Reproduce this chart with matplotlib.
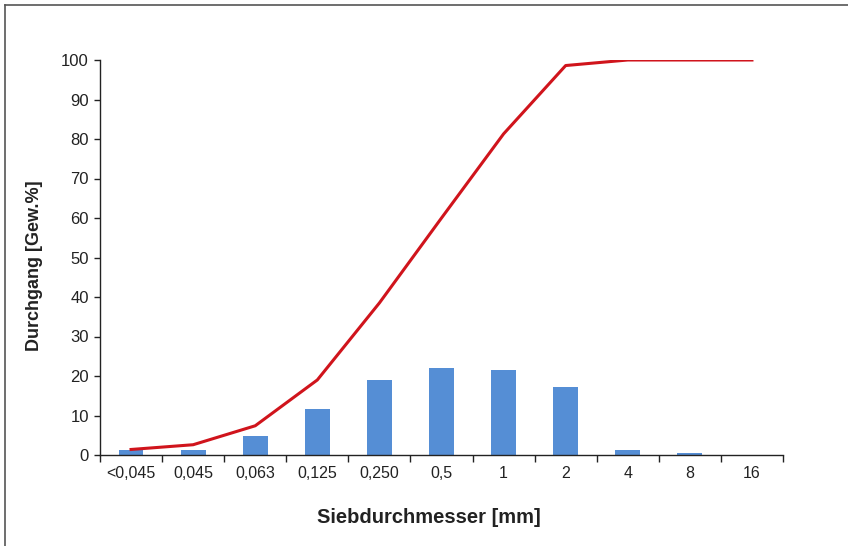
import matplotlib
matplotlib.use("Agg")
import matplotlib.pyplot as plt
import numpy as np
from matplotlib.lines import Line2D

categories = ["<0,045", "0,045", "0,063", "0,125", "0,250", "0,5", "1", "2", "4", "8", "16"]
fraction = [1.3, 1.3, 4.9, 11.6, 19.1, 22.0, 21.5, 17.2, 1.3, 0.4, 0.0]
passing = [1.4, 2.6, 7.4, 19.0, 38.5, 60.0, 81.3, 98.6, 100.0, 100.0, 100.0]
yticks = [0, 10, 20, 30, 40, 50, 60, 70, 80, 90, 100]

plt.rcParams['font.family'] = ['Liberation Sans', 'DejaVu Sans']

fig = plt.figure(figsize=(8.48, 5.46), dpi=100)
ax = fig.add_axes([100/848, 1-455/546, (783-100)/848, (455-60)/546])

x = np.arange(len(categories))
ax.bar(x, fraction, width=0.4, color="#558ed5", zorder=2)
ax.plot(x, passing, color="#d0141c", lw=2.2, zorder=3)

ax.set_xlim(-0.5, len(categories) - 0.5)
ax.set_ylim(0, 100)
ax.set_yticks(yticks)
ax.set_xticks(x)
ax.set_xticklabels(categories)
ax.set_xticks(np.arange(-0.5, len(categories), 1.0), minor=True)
ax.tick_params(axis='x', which='major', length=0, pad=8, labelsize=11.5, colors='#222222')
ax.tick_params(axis='x', which='minor', length=5, width=1, color='#222222', direction='out')
ax.tick_params(axis='y', length=4, width=1, labelsize=12, colors='#222222', pad=4)

for s in ['top', 'right']:
    ax.spines[s].set_visible(False)
for s in ['left', 'bottom']:
    ax.spines[s].set_color('#222222')
    ax.spines[s].set_linewidth(1)

ax.set_xlabel("Siebdurchmesser [mm]", fontsize=14.5, fontweight='bold', color='#222222')
ax.set_ylabel("Durchgang [Gew.%]", fontsize=13, fontweight='bold', color='#222222')
ax.xaxis.set_label_coords(0.481, -0.135)
ax.yaxis.set_label_coords(-0.083, 0.48)

# figure frame (top and left edges visible)
fig.add_artist(Line2D([5/848, 1.0], [1-5/546, 1-5/546], transform=fig.transFigure, color='#555555', lw=1.2))
fig.add_artist(Line2D([5/848, 5/848], [0.0, 1-5/546], transform=fig.transFigure, color='#555555', lw=1.2))

fig.savefig("out.png", dpi=100)
